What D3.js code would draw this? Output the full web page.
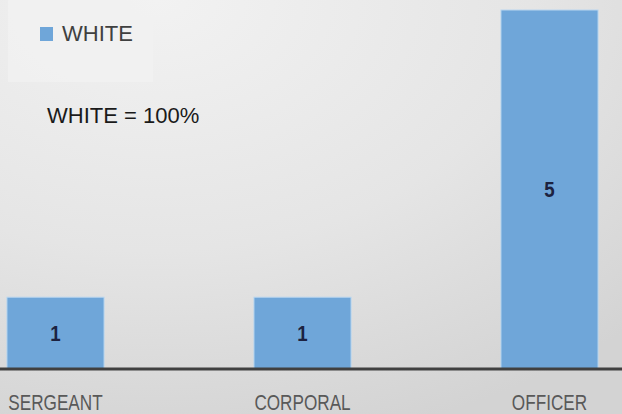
<!DOCTYPE html>
<html>
<head>
<meta charset="utf-8">
<script src="https://cdn.jsdelivr.net/npm/d3@7"></script>
<style>
  html, body { margin: 0; padding: 0; overflow: hidden; }
  svg { display: block; }
</style>
</head>
<body>
<div id="chart"></div>
<script>
// donnees
var categories = ["SERGEANT", "CORPORAL", "OFFICER"];
var values = [1, 1, 5];
var seriesName = "WHITE";
var note = "WHITE = 100%";

var width = 622, height = 414;
var baseY = 369;

var svg = d3.select("#chart").append("svg")
    .attr("width", width)
    .attr("height", height);

// fond degrade gris
var defs = svg.append("defs");
var grad = defs.append("radialGradient")
    .attr("id", "bg")
    .attr("cx", "0.25").attr("cy", "0")
    .attr("r", "1.1");
grad.append("stop").attr("offset", "0%").attr("stop-color", "#f2f2f2");
grad.append("stop").attr("offset", "55%").attr("stop-color", "#e5e5e5");
grad.append("stop").attr("offset", "100%").attr("stop-color", "#d3d3d3");

svg.append("rect")
    .attr("width", width).attr("height", height)
    .attr("fill", "url(#bg)");

var x = d3.scaleBand()
    .domain(categories)
    .range([-68, 673])
    .paddingInner(0.607)
    .paddingOuter(0.3035);

var y = d3.scaleLinear()
    .domain([0, 5])
    .range([baseY, 10]);

// barres
svg.selectAll(".bar")
    .data(values)
    .enter().append("rect")
    .attr("class", "bar")
    .attr("x", function(d, i) { return x(categories[i]); })
    .attr("width", x.bandwidth())
    .attr("y", function(d) { return y(d); })
    .attr("height", function(d) { return baseY - y(d); })
    .attr("fill", "#6fa6d9")
    .attr("stroke", "#b9d6f0")
    .attr("stroke-width", 1);

// valeurs dans les barres (police etroite simulee par un scale horizontal)
svg.selectAll(".val")
    .data(values)
    .enter().append("text")
    .attr("class", "val")
    .attr("transform", function(d, i) {
        return "translate(" + (x(categories[i]) + x.bandwidth() / 2) + "," + ((y(d) + baseY) / 2) + ") scale(0.85,1)";
    })
    .attr("dy", "0.35em")
    .attr("text-anchor", "middle")
    .attr("font-family", "'Liberation Sans', Arial, sans-serif")
    .attr("font-weight", "bold")
    .attr("font-size", 22)
    .attr("fill", "#1c2240")
    .text(function(d) { return d; });

// axe du bas
var xAxis = svg.append("g")
    .attr("transform", "translate(0," + baseY + ")")
    .call(d3.axisBottom(x).tickSize(0).tickPadding(25));
xAxis.select(".domain")
    .attr("d", "M0,0H" + width)
    .attr("stroke", "#404040")
    .attr("stroke-width", 3);
xAxis.selectAll("text")
    .attr("font-family", "'Liberation Sans', Arial, sans-serif")
    .attr("font-size", 22)
    .attr("fill", "#595959")
    .attr("transform", "scale(0.78,1)");

// legende
var legend = svg.append("g");
legend.append("rect")
    .attr("x", 8).attr("y", 0)
    .attr("width", 145).attr("height", 82)
    .attr("fill", "#f1f1f1")
    .attr("opacity", 0.8);
legend.append("rect")
    .attr("x", 40).attr("y", 27)
    .attr("width", 13).attr("height", 14)
    .attr("fill", "#6fa6d9");
legend.append("text")
    .attr("x", 62).attr("y", 41)
    .attr("font-family", "'Liberation Sans', Arial, sans-serif")
    .attr("font-size", 22)
    .attr("fill", "#404040")
    .text(seriesName);

svg.append("text")
    .attr("x", 47).attr("y", 123)
    .attr("font-family", "'Liberation Sans', Arial, sans-serif")
    .attr("font-size", 22)
    .attr("fill", "#1a1a1a")
    .text(note);
</script>
</body>
</html>
